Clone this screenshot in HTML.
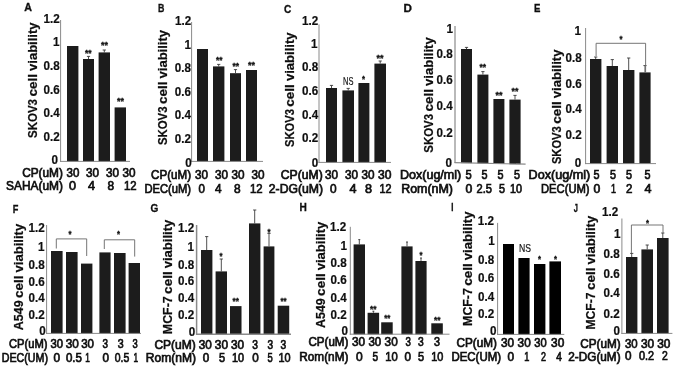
<!DOCTYPE html>
<html><head><meta charset="utf-8"><title>Figure</title>
<style>
html,body{margin:0;padding:0;background:#fff;}
svg{display:block;}
text{font-family:"Liberation Sans",sans-serif;fill:#111;}
text.r{stroke:#111;stroke-width:0.7px;}
</style></head><body>
<svg width="675" height="366" viewBox="0 0 675 366">
<rect width="675" height="366" fill="#fff"/>
<defs><filter id="bl" x="-2%" y="-2%" width="104%" height="104%"><feGaussianBlur stdDeviation="0.45"/></filter></defs>
<g filter="url(#bl)">
<rect x="67.0" y="46.0" width="11.4" height="115.6" fill="#1c1c1c"/>
<rect x="83.0" y="59.0" width="11.0" height="102.6" fill="#1c1c1c"/>
<line x1="88.5" y1="56.4" x2="88.5" y2="59.0" stroke="#3a3a3a" stroke-width="0.9"/>
<line x1="86.9" y1="56.4" x2="90.1" y2="56.4" stroke="#3a3a3a" stroke-width="0.9"/>
<rect x="98.6" y="52.4" width="11.4" height="109.2" fill="#1c1c1c"/>
<line x1="104.3" y1="50.0" x2="104.3" y2="52.4" stroke="#3a3a3a" stroke-width="0.9"/>
<line x1="102.7" y1="50.0" x2="105.9" y2="50.0" stroke="#3a3a3a" stroke-width="0.9"/>
<rect x="114.6" y="107.4" width="11.4" height="54.2" fill="#1c1c1c"/>
<line x1="60.6" y1="20.0" x2="60.6" y2="161.9" stroke="#8a8a8a" stroke-width="1"/>
<line x1="60.1" y1="161.4" x2="130.0" y2="161.4" stroke="#8a8a8a" stroke-width="1"/>
<text x="43.5" y="22.5" font-size="12.3" font-weight="bold" textLength="16.2" lengthAdjust="spacingAndGlyphs" stroke="#111" stroke-width="0.2">1.2</text>
<text x="52.9" y="46.1" font-size="12.3" font-weight="bold" textLength="6.5" lengthAdjust="spacingAndGlyphs" stroke="#111" stroke-width="0.2">1</text>
<text x="43.5" y="69.8" font-size="12.3" font-weight="bold" textLength="16.2" lengthAdjust="spacingAndGlyphs" stroke="#111" stroke-width="0.2">0.8</text>
<text x="43.5" y="93.5" font-size="12.3" font-weight="bold" textLength="16.2" lengthAdjust="spacingAndGlyphs" stroke="#111" stroke-width="0.2">0.6</text>
<text x="43.5" y="117.1" font-size="12.3" font-weight="bold" textLength="16.2" lengthAdjust="spacingAndGlyphs" stroke="#111" stroke-width="0.2">0.4</text>
<text x="43.5" y="140.8" font-size="12.3" font-weight="bold" textLength="16.2" lengthAdjust="spacingAndGlyphs" stroke="#111" stroke-width="0.2">0.2</text>
<text x="51.4" y="164.4" font-size="12.3" font-weight="bold" textLength="6.5" lengthAdjust="spacingAndGlyphs" stroke="#111" stroke-width="0.2">0</text>
<text x="85.0" y="55.7" font-size="8.5" font-weight="bold" textLength="6.6" lengthAdjust="spacingAndGlyphs" stroke="#111" stroke-width="0.3">**</text>
<text x="101.0" y="47.9" font-size="8.5" font-weight="bold" textLength="7.0" lengthAdjust="spacingAndGlyphs" stroke="#111" stroke-width="0.3">**</text>
<text x="117.0" y="103.7" font-size="8.5" font-weight="bold" textLength="7.0" lengthAdjust="spacingAndGlyphs" stroke="#111" stroke-width="0.3">**</text>
<text x="22.2" y="177.0" font-size="12.2" font-weight="normal" textLength="40.7" lengthAdjust="spacingAndGlyphs" class="r">CP(uM)</text>
<text x="66.6" y="177.0" font-size="12.2" font-weight="normal" textLength="12.8" lengthAdjust="spacingAndGlyphs" class="r">30</text>
<text x="86.0" y="177.0" font-size="12.2" font-weight="normal" textLength="13.0" lengthAdjust="spacingAndGlyphs" class="r">30</text>
<text x="106.0" y="177.0" font-size="12.2" font-weight="normal" textLength="13.0" lengthAdjust="spacingAndGlyphs" class="r">30</text>
<text x="122.4" y="177.0" font-size="12.2" font-weight="normal" textLength="13.0" lengthAdjust="spacingAndGlyphs" class="r">30</text>
<text x="6.0" y="190.3" font-size="12.2" font-weight="normal" textLength="56.9" lengthAdjust="spacingAndGlyphs" class="r">SAHA(uM)</text>
<text x="69.0" y="190.3" font-size="12.2" font-weight="normal" textLength="7.0" lengthAdjust="spacingAndGlyphs" class="r">0</text>
<text x="88.0" y="190.3" font-size="12.2" font-weight="normal" textLength="7.0" lengthAdjust="spacingAndGlyphs" class="r">4</text>
<text x="107.4" y="190.3" font-size="12.2" font-weight="normal" textLength="6.6" lengthAdjust="spacingAndGlyphs" class="r">8</text>
<text x="124.0" y="190.3" font-size="12.2" font-weight="normal" textLength="12.6" lengthAdjust="spacingAndGlyphs" class="r">12</text>
<text x="24.2" y="10.9" font-size="11.5" font-weight="bold" textLength="7.7" lengthAdjust="spacingAndGlyphs" stroke="#111" stroke-width="0.35">A</text>
<g transform="translate(36.6,137.5) rotate(-90)" font-size="12.5" font-weight="bold" stroke="#111" stroke-width="0.22">
<text x="-0.5" y="0" textLength="39.0" lengthAdjust="spacingAndGlyphs">SKOV3</text>
<text x="40.9" y="0" textLength="22.6" lengthAdjust="spacingAndGlyphs">cell</text>
<text x="66.5" y="0" textLength="48.6" lengthAdjust="spacingAndGlyphs">viability</text>
</g>
<rect x="197.0" y="49.0" width="11.0" height="112.6" fill="#1c1c1c"/>
<rect x="213.0" y="66.4" width="11.4" height="95.2" fill="#1c1c1c"/>
<line x1="218.7" y1="64.4" x2="218.7" y2="66.4" stroke="#3a3a3a" stroke-width="0.9"/>
<line x1="217.1" y1="64.4" x2="220.3" y2="64.4" stroke="#3a3a3a" stroke-width="0.9"/>
<rect x="230.0" y="73.2" width="11.0" height="88.4" fill="#1c1c1c"/>
<line x1="235.5" y1="69.6" x2="235.5" y2="73.2" stroke="#3a3a3a" stroke-width="0.9"/>
<line x1="233.9" y1="69.6" x2="237.1" y2="69.6" stroke="#3a3a3a" stroke-width="0.9"/>
<rect x="246.0" y="70.0" width="11.0" height="91.6" fill="#1c1c1c"/>
<line x1="191.6" y1="22.0" x2="191.6" y2="161.9" stroke="#8a8a8a" stroke-width="1"/>
<line x1="191.1" y1="161.4" x2="263.0" y2="161.4" stroke="#8a8a8a" stroke-width="1"/>
<text x="175.1" y="25.1" font-size="12.3" font-weight="bold" textLength="16.2" lengthAdjust="spacingAndGlyphs" stroke="#111" stroke-width="0.2">1.2</text>
<text x="184.5" y="48.5" font-size="12.3" font-weight="bold" textLength="6.5" lengthAdjust="spacingAndGlyphs" stroke="#111" stroke-width="0.2">1</text>
<text x="174.7" y="71.9" font-size="12.3" font-weight="bold" textLength="16.2" lengthAdjust="spacingAndGlyphs" stroke="#111" stroke-width="0.2">0.8</text>
<text x="174.7" y="96.1" font-size="12.3" font-weight="bold" textLength="16.2" lengthAdjust="spacingAndGlyphs" stroke="#111" stroke-width="0.2">0.6</text>
<text x="174.7" y="119.3" font-size="12.3" font-weight="bold" textLength="16.2" lengthAdjust="spacingAndGlyphs" stroke="#111" stroke-width="0.2">0.4</text>
<text x="174.7" y="142.5" font-size="12.3" font-weight="bold" textLength="16.2" lengthAdjust="spacingAndGlyphs" stroke="#111" stroke-width="0.2">0.2</text>
<text x="185.2" y="166.5" font-size="12.3" font-weight="bold" textLength="6.5" lengthAdjust="spacingAndGlyphs" stroke="#111" stroke-width="0.2">0</text>
<text x="216.0" y="63.4" font-size="8.5" font-weight="bold" textLength="6.4" lengthAdjust="spacingAndGlyphs" stroke="#111" stroke-width="0.3">**</text>
<text x="232.4" y="69.0" font-size="8.5" font-weight="bold" textLength="6.6" lengthAdjust="spacingAndGlyphs" stroke="#111" stroke-width="0.3">**</text>
<text x="248.0" y="68.2" font-size="8.5" font-weight="bold" textLength="7.0" lengthAdjust="spacingAndGlyphs" stroke="#111" stroke-width="0.3">**</text>
<text x="151.0" y="178.9" font-size="12.2" font-weight="normal" textLength="40.0" lengthAdjust="spacingAndGlyphs" class="r">CP(uM)</text>
<text x="195.0" y="178.9" font-size="12.2" font-weight="normal" textLength="13.0" lengthAdjust="spacingAndGlyphs" class="r">30</text>
<text x="215.0" y="178.9" font-size="12.2" font-weight="normal" textLength="13.0" lengthAdjust="spacingAndGlyphs" class="r">30</text>
<text x="231.6" y="178.9" font-size="12.2" font-weight="normal" textLength="13.0" lengthAdjust="spacingAndGlyphs" class="r">30</text>
<text x="251.6" y="178.9" font-size="12.2" font-weight="normal" textLength="13.0" lengthAdjust="spacingAndGlyphs" class="r">30</text>
<text x="144.4" y="192.9" font-size="12.2" font-weight="normal" textLength="46.6" lengthAdjust="spacingAndGlyphs" class="r">DEC(uM)</text>
<text x="198.6" y="192.9" font-size="12.2" font-weight="normal" textLength="6.4" lengthAdjust="spacingAndGlyphs" class="r">0</text>
<text x="215.0" y="192.9" font-size="12.2" font-weight="normal" textLength="6.6" lengthAdjust="spacingAndGlyphs" class="r">4</text>
<text x="234.0" y="192.9" font-size="12.2" font-weight="normal" textLength="6.6" lengthAdjust="spacingAndGlyphs" class="r">8</text>
<text x="250.0" y="192.9" font-size="12.2" font-weight="normal" textLength="12.6" lengthAdjust="spacingAndGlyphs" class="r">12</text>
<text x="158.1" y="11.8" font-size="11.5" font-weight="bold" textLength="6.4" lengthAdjust="spacingAndGlyphs" stroke="#111" stroke-width="0.35">B</text>
<g transform="translate(167.4,144.6) rotate(-90)" font-size="12.5" font-weight="bold" stroke="#111" stroke-width="0.22">
<text x="-0.5" y="0" textLength="38.6" lengthAdjust="spacingAndGlyphs">SKOV3</text>
<text x="40.5" y="0" textLength="22.6" lengthAdjust="spacingAndGlyphs">cell</text>
<text x="66.1" y="0" textLength="48.6" lengthAdjust="spacingAndGlyphs">viability</text>
</g>
<rect x="326.0" y="88.0" width="11.0" height="74.6" fill="#1c1c1c"/>
<line x1="331.5" y1="85.4" x2="331.5" y2="88.0" stroke="#3a3a3a" stroke-width="0.9"/>
<line x1="329.9" y1="85.4" x2="333.1" y2="85.4" stroke="#3a3a3a" stroke-width="0.9"/>
<rect x="342.4" y="90.4" width="11.6" height="72.2" fill="#1c1c1c"/>
<line x1="348.2" y1="88.4" x2="348.2" y2="90.4" stroke="#3a3a3a" stroke-width="0.9"/>
<line x1="346.6" y1="88.4" x2="349.8" y2="88.4" stroke="#3a3a3a" stroke-width="0.9"/>
<rect x="358.4" y="83.0" width="11.0" height="79.6" fill="#1c1c1c"/>
<rect x="374.4" y="63.6" width="11.6" height="99.0" fill="#1c1c1c"/>
<line x1="380.2" y1="61.0" x2="380.2" y2="63.6" stroke="#3a3a3a" stroke-width="0.9"/>
<line x1="378.6" y1="61.0" x2="381.8" y2="61.0" stroke="#3a3a3a" stroke-width="0.9"/>
<line x1="319.0" y1="24.4" x2="319.0" y2="162.9" stroke="#8a8a8a" stroke-width="1"/>
<line x1="318.5" y1="162.4" x2="391.0" y2="162.4" stroke="#8a8a8a" stroke-width="1"/>
<text x="302.1" y="24.5" font-size="12.3" font-weight="bold" textLength="16.2" lengthAdjust="spacingAndGlyphs" stroke="#111" stroke-width="0.2">1.2</text>
<text x="310.9" y="47.5" font-size="12.3" font-weight="bold" textLength="6.5" lengthAdjust="spacingAndGlyphs" stroke="#111" stroke-width="0.2">1</text>
<text x="302.1" y="71.1" font-size="12.3" font-weight="bold" textLength="16.2" lengthAdjust="spacingAndGlyphs" stroke="#111" stroke-width="0.2">0.8</text>
<text x="302.1" y="95.3" font-size="12.3" font-weight="bold" textLength="16.2" lengthAdjust="spacingAndGlyphs" stroke="#111" stroke-width="0.2">0.6</text>
<text x="302.1" y="118.5" font-size="12.3" font-weight="bold" textLength="16.2" lengthAdjust="spacingAndGlyphs" stroke="#111" stroke-width="0.2">0.4</text>
<text x="302.1" y="141.9" font-size="12.3" font-weight="bold" textLength="16.2" lengthAdjust="spacingAndGlyphs" stroke="#111" stroke-width="0.2">0.2</text>
<text x="311.8" y="166.5" font-size="12.3" font-weight="bold" textLength="6.5" lengthAdjust="spacingAndGlyphs" stroke="#111" stroke-width="0.2">0</text>
<text x="343.0" y="84.8" font-size="10.4" font-weight="normal" textLength="10.4" lengthAdjust="spacingAndGlyphs" fill="#222" stroke="#222" stroke-width="0.2">NS</text>
<text x="362.0" y="81.8" font-size="8.5" font-weight="bold" textLength="3.0" lengthAdjust="spacingAndGlyphs" stroke="#111" stroke-width="0.3">*</text>
<text x="376.4" y="60.6" font-size="8.5" font-weight="bold" textLength="7.0" lengthAdjust="spacingAndGlyphs" stroke="#111" stroke-width="0.3">**</text>
<text x="280.8" y="179.0" font-size="12.2" font-weight="normal" textLength="42.0" lengthAdjust="spacingAndGlyphs" class="r">CP(uM)</text>
<text x="325.0" y="179.0" font-size="12.2" font-weight="normal" textLength="13.0" lengthAdjust="spacingAndGlyphs" class="r">30</text>
<text x="345.0" y="179.0" font-size="12.2" font-weight="normal" textLength="13.0" lengthAdjust="spacingAndGlyphs" class="r">30</text>
<text x="361.6" y="179.0" font-size="12.2" font-weight="normal" textLength="13.0" lengthAdjust="spacingAndGlyphs" class="r">30</text>
<text x="378.0" y="179.0" font-size="12.2" font-weight="normal" textLength="13.4" lengthAdjust="spacingAndGlyphs" class="r">30</text>
<text x="268.8" y="192.8" font-size="12.2" font-weight="normal" textLength="54.2" lengthAdjust="spacingAndGlyphs" class="r">2-DG(uM)</text>
<text x="330.0" y="192.6" font-size="12.2" font-weight="normal" textLength="6.6" lengthAdjust="spacingAndGlyphs" class="r">0</text>
<text x="349.4" y="192.6" font-size="12.2" font-weight="normal" textLength="7.0" lengthAdjust="spacingAndGlyphs" class="r">4</text>
<text x="365.0" y="192.6" font-size="12.2" font-weight="normal" textLength="7.0" lengthAdjust="spacingAndGlyphs" class="r">8</text>
<text x="379.4" y="192.6" font-size="12.2" font-weight="normal" textLength="12.0" lengthAdjust="spacingAndGlyphs" class="r">12</text>
<text x="283.9" y="12.6" font-size="11.5" font-weight="bold" textLength="7.3" lengthAdjust="spacingAndGlyphs" stroke="#111" stroke-width="0.35">C</text>
<g transform="translate(293.5,146.5) rotate(-90)" font-size="12.5" font-weight="bold" stroke="#111" stroke-width="0.22">
<text x="-0.5" y="0" textLength="37.9" lengthAdjust="spacingAndGlyphs">SKOV3</text>
<text x="39.8" y="0" textLength="22.6" lengthAdjust="spacingAndGlyphs">cell</text>
<text x="65.4" y="0" textLength="48.6" lengthAdjust="spacingAndGlyphs">viability</text>
</g>
<rect x="461.0" y="49.0" width="11.0" height="114.1" fill="#1c1c1c"/>
<line x1="466.5" y1="47.4" x2="466.5" y2="49.0" stroke="#3a3a3a" stroke-width="0.9"/>
<line x1="464.9" y1="47.4" x2="468.1" y2="47.4" stroke="#3a3a3a" stroke-width="0.9"/>
<rect x="477.4" y="74.6" width="11.0" height="88.8" fill="#1c1c1c"/>
<line x1="482.9" y1="71.6" x2="482.9" y2="74.6" stroke="#3a3a3a" stroke-width="0.9"/>
<line x1="481.3" y1="71.6" x2="484.5" y2="71.6" stroke="#3a3a3a" stroke-width="0.9"/>
<rect x="493.4" y="99.0" width="11.0" height="64.8" fill="#1c1c1c"/>
<rect x="509.4" y="99.6" width="11.2" height="64.6" fill="#1c1c1c"/>
<line x1="515.0" y1="95.4" x2="515.0" y2="99.6" stroke="#3a3a3a" stroke-width="0.9"/>
<line x1="513.4" y1="95.4" x2="516.6" y2="95.4" stroke="#3a3a3a" stroke-width="0.9"/>
<line x1="455.0" y1="26.0" x2="455.0" y2="163.1" stroke="#8a8a8a" stroke-width="1.2"/>
<line x1="454.5" y1="162.6" x2="525.6" y2="164.2" stroke="#8a8a8a" stroke-width="1.2"/>
<text x="446.4" y="32.5" font-size="12.3" font-weight="bold" textLength="6.5" lengthAdjust="spacingAndGlyphs" stroke="#111" stroke-width="0.2">1</text>
<text x="436.6" y="57.5" font-size="12.3" font-weight="bold" textLength="16.2" lengthAdjust="spacingAndGlyphs" stroke="#111" stroke-width="0.2">0.8</text>
<text x="436.6" y="83.9" font-size="12.3" font-weight="bold" textLength="16.2" lengthAdjust="spacingAndGlyphs" stroke="#111" stroke-width="0.2">0.6</text>
<text x="436.6" y="110.0" font-size="12.3" font-weight="bold" textLength="16.2" lengthAdjust="spacingAndGlyphs" stroke="#111" stroke-width="0.2">0.4</text>
<text x="436.6" y="136.8" font-size="12.3" font-weight="bold" textLength="16.2" lengthAdjust="spacingAndGlyphs" stroke="#111" stroke-width="0.2">0.2</text>
<text x="445.5" y="166.7" font-size="12.3" font-weight="bold" textLength="6.5" lengthAdjust="spacingAndGlyphs" stroke="#111" stroke-width="0.2">0</text>
<text x="479.4" y="69.5" font-size="8.5" font-weight="bold" textLength="6.6" lengthAdjust="spacingAndGlyphs" stroke="#111" stroke-width="0.3">**</text>
<text x="495.4" y="97.9" font-size="8.5" font-weight="bold" textLength="7.0" lengthAdjust="spacingAndGlyphs" stroke="#111" stroke-width="0.3">**</text>
<text x="511.6" y="94.1" font-size="8.5" font-weight="bold" textLength="6.8" lengthAdjust="spacingAndGlyphs" stroke="#111" stroke-width="0.3">**</text>
<text x="400.0" y="179.2" font-size="12.2" font-weight="normal" textLength="61.2" lengthAdjust="spacingAndGlyphs" class="r">Dox(ug/ml)</text>
<text x="465.6" y="179.2" font-size="12.2" font-weight="normal" textLength="6.2" lengthAdjust="spacingAndGlyphs" class="r">5</text>
<text x="481.6" y="179.0" font-size="12.2" font-weight="normal" textLength="6.0" lengthAdjust="spacingAndGlyphs" class="r">5</text>
<text x="497.6" y="179.0" font-size="12.2" font-weight="normal" textLength="6.0" lengthAdjust="spacingAndGlyphs" class="r">5</text>
<text x="514.0" y="179.0" font-size="12.2" font-weight="normal" textLength="6.0" lengthAdjust="spacingAndGlyphs" class="r">5</text>
<text x="401.2" y="193.3" font-size="12.2" font-weight="normal" textLength="51.8" lengthAdjust="spacingAndGlyphs" class="r">Rom(nM)</text>
<text x="465.6" y="193.0" font-size="12.2" font-weight="normal" textLength="6.8" lengthAdjust="spacingAndGlyphs" class="r">0</text>
<text x="476.6" y="193.0" font-size="12.2" font-weight="normal" textLength="15.4" lengthAdjust="spacingAndGlyphs" class="r">2.5</text>
<text x="499.0" y="193.0" font-size="12.2" font-weight="normal" textLength="6.0" lengthAdjust="spacingAndGlyphs" class="r">5</text>
<text x="510.0" y="193.0" font-size="12.2" font-weight="normal" textLength="12.0" lengthAdjust="spacingAndGlyphs" class="r">10</text>
<text x="403.6" y="12.4" font-size="11.5" font-weight="bold" textLength="8.4" lengthAdjust="spacingAndGlyphs" stroke="#111" stroke-width="0.35">D</text>
<g transform="translate(433.4,152.2) rotate(-90)" font-size="12.5" font-weight="bold" stroke="#111" stroke-width="0.22">
<text x="-0.5" y="0" textLength="38.8" lengthAdjust="spacingAndGlyphs">SKOV3</text>
<text x="40.7" y="0" textLength="22.6" lengthAdjust="spacingAndGlyphs">cell</text>
<text x="66.3" y="0" textLength="48.6" lengthAdjust="spacingAndGlyphs">viability</text>
</g>
<rect x="590.0" y="59.0" width="11.4" height="104.8" fill="#1c1c1c"/>
<line x1="595.7" y1="57.0" x2="595.7" y2="59.0" stroke="#3a3a3a" stroke-width="0.9"/>
<line x1="594.1" y1="57.0" x2="597.3" y2="57.0" stroke="#3a3a3a" stroke-width="0.9"/>
<rect x="606.6" y="66.0" width="11.4" height="97.8" fill="#1c1c1c"/>
<line x1="612.3" y1="59.6" x2="612.3" y2="66.0" stroke="#3a3a3a" stroke-width="0.9"/>
<line x1="610.7" y1="59.6" x2="613.9" y2="59.6" stroke="#3a3a3a" stroke-width="0.9"/>
<rect x="623.0" y="70.0" width="11.4" height="93.8" fill="#1c1c1c"/>
<line x1="628.7" y1="58.0" x2="628.7" y2="70.0" stroke="#3a3a3a" stroke-width="0.9"/>
<line x1="627.1" y1="58.0" x2="630.3" y2="58.0" stroke="#3a3a3a" stroke-width="0.9"/>
<rect x="639.4" y="72.4" width="11.2" height="91.4" fill="#1c1c1c"/>
<line x1="645.0" y1="65.6" x2="645.0" y2="72.4" stroke="#3a3a3a" stroke-width="0.9"/>
<line x1="643.4" y1="65.6" x2="646.6" y2="65.6" stroke="#3a3a3a" stroke-width="0.9"/>
<line x1="585.6" y1="28.0" x2="585.6" y2="164.1" stroke="#8a8a8a" stroke-width="1"/>
<line x1="585.1" y1="163.6" x2="656.0" y2="163.6" stroke="#8a8a8a" stroke-width="1"/>
<text x="574.5" y="35.2" font-size="12.3" font-weight="bold" textLength="6.5" lengthAdjust="spacingAndGlyphs" stroke="#111" stroke-width="0.2">1</text>
<text x="565.6" y="61.8" font-size="12.3" font-weight="bold" textLength="16.2" lengthAdjust="spacingAndGlyphs" stroke="#111" stroke-width="0.2">0.8</text>
<text x="565.6" y="87.5" font-size="12.3" font-weight="bold" textLength="16.2" lengthAdjust="spacingAndGlyphs" stroke="#111" stroke-width="0.2">0.6</text>
<text x="565.6" y="113.3" font-size="12.3" font-weight="bold" textLength="16.2" lengthAdjust="spacingAndGlyphs" stroke="#111" stroke-width="0.2">0.4</text>
<text x="565.6" y="139.2" font-size="12.3" font-weight="bold" textLength="16.2" lengthAdjust="spacingAndGlyphs" stroke="#111" stroke-width="0.2">0.2</text>
<text x="574.8" y="167.0" font-size="12.3" font-weight="bold" textLength="6.5" lengthAdjust="spacingAndGlyphs" stroke="#111" stroke-width="0.2">0</text>
<text x="619.4" y="41.7" font-size="8.5" font-weight="bold" textLength="3.0" lengthAdjust="spacingAndGlyphs" stroke="#111" stroke-width="0.3">*</text>
<polyline points="596.1,56.0 596.1,43.3 645.6,43.3 645.6,72.0" fill="none" stroke="#666" stroke-width="0.9"/>
<text x="528.6" y="179.4" font-size="12.2" font-weight="normal" textLength="61.6" lengthAdjust="spacingAndGlyphs" class="r">Dox(ug/ml)</text>
<text x="593.6" y="179.4" font-size="12.2" font-weight="normal" textLength="6.0" lengthAdjust="spacingAndGlyphs" class="r">5</text>
<text x="610.0" y="179.4" font-size="12.2" font-weight="normal" textLength="6.0" lengthAdjust="spacingAndGlyphs" class="r">5</text>
<text x="626.0" y="179.4" font-size="12.2" font-weight="normal" textLength="6.0" lengthAdjust="spacingAndGlyphs" class="r">5</text>
<text x="644.6" y="179.4" font-size="12.2" font-weight="normal" textLength="6.0" lengthAdjust="spacingAndGlyphs" class="r">5</text>
<text x="541.0" y="193.2" font-size="12.2" font-weight="normal" textLength="48.6" lengthAdjust="spacingAndGlyphs" class="r">DEC(UM)</text>
<text x="593.6" y="193.2" font-size="12.2" font-weight="normal" textLength="6.8" lengthAdjust="spacingAndGlyphs" class="r">0</text>
<text x="611.0" y="193.2" font-size="12.2" font-weight="normal" textLength="5.0" lengthAdjust="spacingAndGlyphs" class="r">1</text>
<text x="626.0" y="193.2" font-size="12.2" font-weight="normal" textLength="6.4" lengthAdjust="spacingAndGlyphs" class="r">2</text>
<text x="644.6" y="193.2" font-size="12.2" font-weight="normal" textLength="7.0" lengthAdjust="spacingAndGlyphs" class="r">4</text>
<text x="534.0" y="12.4" font-size="11.5" font-weight="bold" textLength="6.4" lengthAdjust="spacingAndGlyphs" stroke="#111" stroke-width="0.35">E</text>
<g transform="translate(561.4,163.6) rotate(-90)" font-size="12.5" font-weight="bold" stroke="#111" stroke-width="0.22">
<text x="-0.5" y="0" textLength="37.9" lengthAdjust="spacingAndGlyphs">SKOV3</text>
<text x="39.8" y="0" textLength="22.6" lengthAdjust="spacingAndGlyphs">cell</text>
<text x="65.4" y="0" textLength="48.6" lengthAdjust="spacingAndGlyphs">viability</text>
</g>
<rect x="51.0" y="251.0" width="11.6" height="82.6" fill="#1c1c1c"/>
<rect x="66.0" y="252.0" width="11.6" height="81.6" fill="#1c1c1c"/>
<rect x="81.0" y="263.6" width="11.4" height="70.0" fill="#1c1c1c"/>
<rect x="99.4" y="252.4" width="11.2" height="81.2" fill="#1c1c1c"/>
<rect x="114.0" y="253.0" width="11.6" height="80.6" fill="#1c1c1c"/>
<rect x="128.6" y="263.0" width="11.4" height="70.6" fill="#1c1c1c"/>
<line x1="46.6" y1="225.0" x2="46.6" y2="333.9" stroke="#8a8a8a" stroke-width="1"/>
<line x1="46.1" y1="333.4" x2="141.0" y2="333.4" stroke="#8a8a8a" stroke-width="1"/>
<text x="28.5" y="232.3" font-size="12.3" font-weight="bold" textLength="16.2" lengthAdjust="spacingAndGlyphs" stroke="#111" stroke-width="0.2">1.2</text>
<text x="38.1" y="251.1" font-size="12.3" font-weight="bold" textLength="6.5" lengthAdjust="spacingAndGlyphs" stroke="#111" stroke-width="0.2">1</text>
<text x="28.5" y="268.5" font-size="12.3" font-weight="bold" textLength="16.2" lengthAdjust="spacingAndGlyphs" stroke="#111" stroke-width="0.2">0.8</text>
<text x="28.5" y="285.5" font-size="12.3" font-weight="bold" textLength="16.2" lengthAdjust="spacingAndGlyphs" stroke="#111" stroke-width="0.2">0.6</text>
<text x="28.5" y="302.3" font-size="12.3" font-weight="bold" textLength="16.2" lengthAdjust="spacingAndGlyphs" stroke="#111" stroke-width="0.2">0.4</text>
<text x="28.5" y="319.2" font-size="12.3" font-weight="bold" textLength="16.2" lengthAdjust="spacingAndGlyphs" stroke="#111" stroke-width="0.2">0.2</text>
<text x="39.3" y="335.1" font-size="12.3" font-weight="bold" textLength="6.5" lengthAdjust="spacingAndGlyphs" stroke="#111" stroke-width="0.2">0</text>
<text x="68.6" y="236.9" font-size="8.5" font-weight="bold" textLength="3.0" lengthAdjust="spacingAndGlyphs" stroke="#111" stroke-width="0.3">*</text>
<text x="117.0" y="236.9" font-size="8.5" font-weight="bold" textLength="3.0" lengthAdjust="spacingAndGlyphs" stroke="#111" stroke-width="0.3">*</text>
<polyline points="56.3,248.5 56.3,238.9 86.7,238.9 86.7,256.0" fill="none" stroke="#666" stroke-width="0.9"/>
<polyline points="104.3,249.0 104.3,239.8 134.7,239.8 134.7,256.6" fill="none" stroke="#666" stroke-width="0.9"/>
<text x="9.0" y="348.2" font-size="12.2" font-weight="normal" textLength="38.5" lengthAdjust="spacingAndGlyphs" class="r">CP(uM)</text>
<text x="50.5" y="348.2" font-size="12.2" font-weight="normal" textLength="12.5" lengthAdjust="spacingAndGlyphs" class="r">30</text>
<text x="65.7" y="348.2" font-size="12.2" font-weight="normal" textLength="13.1" lengthAdjust="spacingAndGlyphs" class="r">30</text>
<text x="81.2" y="348.2" font-size="12.2" font-weight="normal" textLength="12.8" lengthAdjust="spacingAndGlyphs" class="r">30</text>
<text x="102.5" y="348.2" font-size="12.2" font-weight="normal" textLength="5.5" lengthAdjust="spacingAndGlyphs" class="r">3</text>
<text x="117.8" y="348.2" font-size="12.2" font-weight="normal" textLength="5.9" lengthAdjust="spacingAndGlyphs" class="r">3</text>
<text x="132.4" y="348.2" font-size="12.2" font-weight="normal" textLength="5.2" lengthAdjust="spacingAndGlyphs" class="r">3</text>
<text x="1.8" y="362.1" font-size="12.2" font-weight="normal" textLength="46.2" lengthAdjust="spacingAndGlyphs" class="r">DEC(UM)</text>
<text x="53.6" y="362.1" font-size="12.2" font-weight="normal" textLength="6.6" lengthAdjust="spacingAndGlyphs" class="r">0</text>
<text x="65.9" y="362.1" font-size="12.2" font-weight="normal" textLength="16.0" lengthAdjust="spacingAndGlyphs" class="r">0.5</text>
<text x="85.2" y="362.1" font-size="12.2" font-weight="normal" textLength="4.6" lengthAdjust="spacingAndGlyphs" class="r">1</text>
<text x="102.5" y="362.1" font-size="12.2" font-weight="normal" textLength="6.5" lengthAdjust="spacingAndGlyphs" class="r">0</text>
<text x="114.8" y="362.1" font-size="12.2" font-weight="normal" textLength="14.5" lengthAdjust="spacingAndGlyphs" class="r">0.5</text>
<text x="133.4" y="362.1" font-size="12.2" font-weight="normal" textLength="4.6" lengthAdjust="spacingAndGlyphs" class="r">1</text>
<text x="12.8" y="212.5" font-size="11.5" font-weight="bold" textLength="5.6" lengthAdjust="spacingAndGlyphs" stroke="#111" stroke-width="0.35">F</text>
<g transform="translate(22.6,329.7) rotate(-90)" font-size="12.5" font-weight="bold" stroke="#111" stroke-width="0.22">
<text x="-0.5" y="0" textLength="29.8" lengthAdjust="spacingAndGlyphs">A549</text>
<text x="31.7" y="0" textLength="22.6" lengthAdjust="spacingAndGlyphs">cell</text>
<text x="57.3" y="0" textLength="48.6" lengthAdjust="spacingAndGlyphs">viability</text>
</g>
<rect x="201.0" y="250.0" width="11.4" height="84.4" fill="#1c1c1c"/>
<line x1="206.7" y1="236.6" x2="206.7" y2="250.0" stroke="#3a3a3a" stroke-width="0.9"/>
<line x1="205.1" y1="236.6" x2="208.3" y2="236.6" stroke="#3a3a3a" stroke-width="0.9"/>
<rect x="215.6" y="271.4" width="11.4" height="63.0" fill="#1c1c1c"/>
<line x1="221.3" y1="259.0" x2="221.3" y2="271.4" stroke="#3a3a3a" stroke-width="0.9"/>
<line x1="219.7" y1="259.0" x2="222.9" y2="259.0" stroke="#3a3a3a" stroke-width="0.9"/>
<rect x="230.0" y="306.1" width="11.5" height="28.3" fill="#1c1c1c"/>
<rect x="249.0" y="223.4" width="11.4" height="111.0" fill="#1c1c1c"/>
<line x1="254.7" y1="210.0" x2="254.7" y2="223.4" stroke="#3a3a3a" stroke-width="0.9"/>
<line x1="253.1" y1="210.0" x2="256.3" y2="210.0" stroke="#3a3a3a" stroke-width="0.9"/>
<rect x="263.6" y="246.4" width="10.8" height="88.0" fill="#1c1c1c"/>
<line x1="269.0" y1="233.4" x2="269.0" y2="246.4" stroke="#3a3a3a" stroke-width="0.9"/>
<line x1="267.4" y1="233.4" x2="270.6" y2="233.4" stroke="#3a3a3a" stroke-width="0.9"/>
<rect x="277.7" y="305.7" width="11.5" height="28.7" fill="#1c1c1c"/>
<line x1="196.6" y1="225.0" x2="196.6" y2="334.7" stroke="#8a8a8a" stroke-width="1.5"/>
<line x1="196.1" y1="334.2" x2="291.0" y2="334.2" stroke="#8a8a8a" stroke-width="1.5"/>
<text x="178.1" y="231.8" font-size="12.3" font-weight="bold" textLength="16.2" lengthAdjust="spacingAndGlyphs" stroke="#111" stroke-width="0.2">1.2</text>
<text x="187.5" y="251.3" font-size="12.3" font-weight="bold" textLength="6.5" lengthAdjust="spacingAndGlyphs" stroke="#111" stroke-width="0.2">1</text>
<text x="178.1" y="268.5" font-size="12.3" font-weight="bold" textLength="16.2" lengthAdjust="spacingAndGlyphs" stroke="#111" stroke-width="0.2">0.8</text>
<text x="178.1" y="285.3" font-size="12.3" font-weight="bold" textLength="16.2" lengthAdjust="spacingAndGlyphs" stroke="#111" stroke-width="0.2">0.6</text>
<text x="178.1" y="302.3" font-size="12.3" font-weight="bold" textLength="16.2" lengthAdjust="spacingAndGlyphs" stroke="#111" stroke-width="0.2">0.4</text>
<text x="178.1" y="319.2" font-size="12.3" font-weight="bold" textLength="16.2" lengthAdjust="spacingAndGlyphs" stroke="#111" stroke-width="0.2">0.2</text>
<text x="188.8" y="335.6" font-size="12.3" font-weight="bold" textLength="6.5" lengthAdjust="spacingAndGlyphs" stroke="#111" stroke-width="0.2">0</text>
<text x="219.6" y="259.4" font-size="8.5" font-weight="bold" textLength="3.0" lengthAdjust="spacingAndGlyphs" stroke="#111" stroke-width="0.3">*</text>
<text x="232.6" y="304.4" font-size="8.5" font-weight="bold" textLength="6.4" lengthAdjust="spacingAndGlyphs" stroke="#111" stroke-width="0.3">**</text>
<text x="267.4" y="235.0" font-size="8.5" font-weight="bold" textLength="3.0" lengthAdjust="spacingAndGlyphs" stroke="#111" stroke-width="0.3">*</text>
<text x="280.5" y="304.3" font-size="8.5" font-weight="bold" textLength="6.1" lengthAdjust="spacingAndGlyphs" stroke="#111" stroke-width="0.3">**</text>
<text x="154.4" y="348.6" font-size="12.2" font-weight="normal" textLength="41.4" lengthAdjust="spacingAndGlyphs" class="r">CP(uM)</text>
<text x="198.7" y="348.6" font-size="12.2" font-weight="normal" textLength="13.1" lengthAdjust="spacingAndGlyphs" class="r">30</text>
<text x="214.8" y="348.6" font-size="12.2" font-weight="normal" textLength="13.2" lengthAdjust="spacingAndGlyphs" class="r">30</text>
<text x="231.0" y="348.6" font-size="12.2" font-weight="normal" textLength="13.1" lengthAdjust="spacingAndGlyphs" class="r">30</text>
<text x="252.2" y="348.6" font-size="12.2" font-weight="normal" textLength="5.7" lengthAdjust="spacingAndGlyphs" class="r">3</text>
<text x="267.4" y="348.6" font-size="12.2" font-weight="normal" textLength="5.6" lengthAdjust="spacingAndGlyphs" class="r">3</text>
<text x="280.5" y="348.6" font-size="12.2" font-weight="normal" textLength="5.7" lengthAdjust="spacingAndGlyphs" class="r">3</text>
<text x="145.8" y="362.1" font-size="12.2" font-weight="normal" textLength="50.2" lengthAdjust="spacingAndGlyphs" class="r">Rom(nM)</text>
<text x="202.7" y="362.1" font-size="12.2" font-weight="normal" textLength="6.5" lengthAdjust="spacingAndGlyphs" class="r">0</text>
<text x="218.9" y="362.1" font-size="12.2" font-weight="normal" textLength="6.1" lengthAdjust="spacingAndGlyphs" class="r">5</text>
<text x="232.0" y="362.1" font-size="12.2" font-weight="normal" textLength="12.1" lengthAdjust="spacingAndGlyphs" class="r">10</text>
<text x="252.2" y="362.1" font-size="12.2" font-weight="normal" textLength="6.5" lengthAdjust="spacingAndGlyphs" class="r">0</text>
<text x="267.4" y="362.1" font-size="12.2" font-weight="normal" textLength="5.2" lengthAdjust="spacingAndGlyphs" class="r">5</text>
<text x="278.5" y="362.1" font-size="12.2" font-weight="normal" textLength="12.1" lengthAdjust="spacingAndGlyphs" class="r">10</text>
<text x="150.5" y="211.7" font-size="11.5" font-weight="bold" textLength="7.8" lengthAdjust="spacingAndGlyphs" stroke="#111" stroke-width="0.35">G</text>
<g transform="translate(172.3,333.7) rotate(-90)" font-size="12.5" font-weight="bold" stroke="#111" stroke-width="0.22">
<text x="-0.5" y="0" textLength="37.9" lengthAdjust="spacingAndGlyphs">MCF-7</text>
<text x="39.8" y="0" textLength="22.6" lengthAdjust="spacingAndGlyphs">cell</text>
<text x="65.4" y="0" textLength="48.6" lengthAdjust="spacingAndGlyphs">viability</text>
</g>
<rect x="353.6" y="244.4" width="11.4" height="90.0" fill="#1c1c1c"/>
<line x1="359.3" y1="239.6" x2="359.3" y2="244.4" stroke="#3a3a3a" stroke-width="0.9"/>
<line x1="358.3" y1="239.6" x2="360.3" y2="239.6" stroke="#3a3a3a" stroke-width="0.9"/>
<rect x="367.6" y="312.8" width="11.5" height="21.6" fill="#1c1c1c"/>
<line x1="373.4" y1="311.2" x2="373.4" y2="312.8" stroke="#3a3a3a" stroke-width="0.9"/>
<line x1="372.4" y1="311.2" x2="374.4" y2="311.2" stroke="#3a3a3a" stroke-width="0.9"/>
<rect x="381.2" y="322.3" width="11.5" height="12.1" fill="#1c1c1c"/>
<rect x="401.4" y="246.4" width="11.2" height="88.0" fill="#1c1c1c"/>
<line x1="407.0" y1="242.0" x2="407.0" y2="246.4" stroke="#3a3a3a" stroke-width="0.9"/>
<line x1="406.0" y1="242.0" x2="408.0" y2="242.0" stroke="#3a3a3a" stroke-width="0.9"/>
<rect x="415.4" y="261.0" width="11.2" height="73.4" fill="#1c1c1c"/>
<line x1="421.0" y1="258.0" x2="421.0" y2="261.0" stroke="#3a3a3a" stroke-width="0.9"/>
<line x1="420.0" y1="258.0" x2="422.0" y2="258.0" stroke="#3a3a3a" stroke-width="0.9"/>
<rect x="431.3" y="323.3" width="11.5" height="11.1" fill="#1c1c1c"/>
<line x1="350.3" y1="226.8" x2="350.3" y2="334.7" stroke="#8a8a8a" stroke-width="1"/>
<line x1="349.8" y1="334.2" x2="449.5" y2="334.2" stroke="#8a8a8a" stroke-width="1"/>
<text x="330.1" y="231.3" font-size="12.3" font-weight="bold" textLength="16.2" lengthAdjust="spacingAndGlyphs" stroke="#111" stroke-width="0.2">1.2</text>
<text x="340.5" y="249.6" font-size="12.3" font-weight="bold" textLength="6.5" lengthAdjust="spacingAndGlyphs" stroke="#111" stroke-width="0.2">1</text>
<text x="330.5" y="267.0" font-size="12.3" font-weight="bold" textLength="16.2" lengthAdjust="spacingAndGlyphs" stroke="#111" stroke-width="0.2">0.8</text>
<text x="330.5" y="284.4" font-size="12.3" font-weight="bold" textLength="16.2" lengthAdjust="spacingAndGlyphs" stroke="#111" stroke-width="0.2">0.6</text>
<text x="330.5" y="301.9" font-size="12.3" font-weight="bold" textLength="16.2" lengthAdjust="spacingAndGlyphs" stroke="#111" stroke-width="0.2">0.4</text>
<text x="330.5" y="319.1" font-size="12.3" font-weight="bold" textLength="16.2" lengthAdjust="spacingAndGlyphs" stroke="#111" stroke-width="0.2">0.2</text>
<text x="341.6" y="335.3" font-size="12.3" font-weight="bold" textLength="6.5" lengthAdjust="spacingAndGlyphs" stroke="#111" stroke-width="0.2">0</text>
<text x="370.0" y="311.6" font-size="8.5" font-weight="bold" textLength="6.5" lengthAdjust="spacingAndGlyphs" stroke="#111" stroke-width="0.3">**</text>
<text x="384.2" y="320.7" font-size="8.5" font-weight="bold" textLength="6.1" lengthAdjust="spacingAndGlyphs" stroke="#111" stroke-width="0.3">**</text>
<text x="419.4" y="258.2" font-size="8.5" font-weight="bold" textLength="3.0" lengthAdjust="spacingAndGlyphs" stroke="#111" stroke-width="0.3">*</text>
<text x="433.9" y="322.7" font-size="8.5" font-weight="bold" textLength="6.5" lengthAdjust="spacingAndGlyphs" stroke="#111" stroke-width="0.3">**</text>
<text x="308.4" y="346.2" font-size="12.2" font-weight="normal" textLength="40.0" lengthAdjust="spacingAndGlyphs" class="r">CP(uM)</text>
<text x="351.9" y="346.2" font-size="12.2" font-weight="normal" textLength="13.1" lengthAdjust="spacingAndGlyphs" class="r">30</text>
<text x="368.4" y="346.2" font-size="12.2" font-weight="normal" textLength="12.8" lengthAdjust="spacingAndGlyphs" class="r">30</text>
<text x="384.6" y="346.2" font-size="12.2" font-weight="normal" textLength="13.1" lengthAdjust="spacingAndGlyphs" class="r">30</text>
<text x="405.6" y="346.2" font-size="12.2" font-weight="normal" textLength="5.4" lengthAdjust="spacingAndGlyphs" class="r">3</text>
<text x="418.1" y="346.2" font-size="12.2" font-weight="normal" textLength="5.7" lengthAdjust="spacingAndGlyphs" class="r">3</text>
<text x="434.0" y="346.2" font-size="12.2" font-weight="normal" textLength="6.0" lengthAdjust="spacingAndGlyphs" class="r">3</text>
<text x="299.3" y="360.7" font-size="12.2" font-weight="normal" textLength="49.1" lengthAdjust="spacingAndGlyphs" class="r">Rom(nM)</text>
<text x="355.9" y="360.7" font-size="12.2" font-weight="normal" textLength="6.7" lengthAdjust="spacingAndGlyphs" class="r">0</text>
<text x="372.5" y="360.7" font-size="12.2" font-weight="normal" textLength="5.6" lengthAdjust="spacingAndGlyphs" class="r">5</text>
<text x="385.2" y="360.7" font-size="12.2" font-weight="normal" textLength="12.5" lengthAdjust="spacingAndGlyphs" class="r">10</text>
<text x="404.5" y="360.7" font-size="12.2" font-weight="normal" textLength="6.5" lengthAdjust="spacingAndGlyphs" class="r">0</text>
<text x="418.1" y="360.7" font-size="12.2" font-weight="normal" textLength="6.1" lengthAdjust="spacingAndGlyphs" class="r">5</text>
<text x="431.3" y="360.7" font-size="12.2" font-weight="normal" textLength="12.1" lengthAdjust="spacingAndGlyphs" class="r">10</text>
<text x="299.4" y="211.4" font-size="11.5" font-weight="bold" textLength="7.3" lengthAdjust="spacingAndGlyphs" stroke="#111" stroke-width="0.35">H</text>
<g transform="translate(324.7,327.5) rotate(-90)" font-size="12.5" font-weight="bold" stroke="#111" stroke-width="0.22">
<text x="-0.5" y="0" textLength="29.7" lengthAdjust="spacingAndGlyphs">A549</text>
<text x="31.6" y="0" textLength="22.6" lengthAdjust="spacingAndGlyphs">cell</text>
<text x="57.2" y="0" textLength="48.6" lengthAdjust="spacingAndGlyphs">viability</text>
</g>
<rect x="503.0" y="244.0" width="11.0" height="90.6" fill="#050505"/>
<rect x="518.4" y="258.0" width="11.2" height="76.6" fill="#050505"/>
<rect x="534.0" y="264.0" width="11.4" height="70.6" fill="#050505"/>
<rect x="549.4" y="261.4" width="11.6" height="73.2" fill="#050505"/>
<line x1="497.6" y1="222.9" x2="497.6" y2="334.9" stroke="#8a8a8a" stroke-width="1"/>
<line x1="497.1" y1="334.4" x2="564.3" y2="334.4" stroke="#8a8a8a" stroke-width="1"/>
<text x="477.8" y="225.2" font-size="12.3" font-weight="bold" textLength="16.2" lengthAdjust="spacingAndGlyphs" stroke="#111" stroke-width="0.2">1.2</text>
<text x="488.2" y="244.7" font-size="12.3" font-weight="bold" textLength="6.5" lengthAdjust="spacingAndGlyphs" stroke="#111" stroke-width="0.2">1</text>
<text x="478.0" y="263.7" font-size="12.3" font-weight="bold" textLength="16.2" lengthAdjust="spacingAndGlyphs" stroke="#111" stroke-width="0.2">0.8</text>
<text x="478.0" y="282.3" font-size="12.3" font-weight="bold" textLength="16.2" lengthAdjust="spacingAndGlyphs" stroke="#111" stroke-width="0.2">0.6</text>
<text x="478.0" y="300.7" font-size="12.3" font-weight="bold" textLength="16.2" lengthAdjust="spacingAndGlyphs" stroke="#111" stroke-width="0.2">0.4</text>
<text x="478.0" y="318.4" font-size="12.3" font-weight="bold" textLength="16.2" lengthAdjust="spacingAndGlyphs" stroke="#111" stroke-width="0.2">0.2</text>
<text x="490.1" y="334.8" font-size="12.3" font-weight="bold" textLength="6.5" lengthAdjust="spacingAndGlyphs" stroke="#111" stroke-width="0.2">0</text>
<text x="519.0" y="251.6" font-size="10.4" font-weight="normal" textLength="12.0" lengthAdjust="spacingAndGlyphs" fill="#222" stroke="#222" stroke-width="0.2">NS</text>
<text x="538.0" y="262.2" font-size="8.5" font-weight="bold" textLength="3.0" lengthAdjust="spacingAndGlyphs" stroke="#111" stroke-width="0.3">*</text>
<text x="554.0" y="262.2" font-size="8.5" font-weight="bold" textLength="3.0" lengthAdjust="spacingAndGlyphs" stroke="#111" stroke-width="0.3">*</text>
<text x="456.5" y="346.6" font-size="12.2" font-weight="normal" textLength="40.5" lengthAdjust="spacingAndGlyphs" class="r">CP(uM)</text>
<text x="501.0" y="346.6" font-size="12.2" font-weight="normal" textLength="13.1" lengthAdjust="spacingAndGlyphs" class="r">30</text>
<text x="517.6" y="346.6" font-size="12.2" font-weight="normal" textLength="13.1" lengthAdjust="spacingAndGlyphs" class="r">30</text>
<text x="534.3" y="346.6" font-size="12.2" font-weight="normal" textLength="12.4" lengthAdjust="spacingAndGlyphs" class="r">30</text>
<text x="551.1" y="346.6" font-size="12.2" font-weight="normal" textLength="13.2" lengthAdjust="spacingAndGlyphs" class="r">30</text>
<text x="451.5" y="361.1" font-size="12.2" font-weight="normal" textLength="49.5" lengthAdjust="spacingAndGlyphs" class="r">DEC(UM)</text>
<text x="507.5" y="361.1" font-size="12.2" font-weight="normal" textLength="6.6" lengthAdjust="spacingAndGlyphs" class="r">0</text>
<text x="524.2" y="361.1" font-size="12.2" font-weight="normal" textLength="5.1" lengthAdjust="spacingAndGlyphs" class="r">1</text>
<text x="541.0" y="361.1" font-size="12.2" font-weight="normal" textLength="5.0" lengthAdjust="spacingAndGlyphs" class="r">2</text>
<text x="556.2" y="361.1" font-size="12.2" font-weight="normal" textLength="5.6" lengthAdjust="spacingAndGlyphs" class="r">4</text>
<text x="451.2" y="210.5" font-size="11.5" font-weight="bold" textLength="2.2" lengthAdjust="spacingAndGlyphs" stroke="#111" stroke-width="0.35">I</text>
<g transform="translate(472.2,325.4) rotate(-90)" font-size="12.5" font-weight="bold" stroke="#111" stroke-width="0.22">
<text x="-0.5" y="0" textLength="37.7" lengthAdjust="spacingAndGlyphs">MCF-7</text>
<text x="39.6" y="0" textLength="22.6" lengthAdjust="spacingAndGlyphs">cell</text>
<text x="65.2" y="0" textLength="48.6" lengthAdjust="spacingAndGlyphs">viability</text>
</g>
<rect x="626.0" y="257.0" width="11.4" height="76.6" fill="#1c1c1c"/>
<line x1="631.7" y1="253.4" x2="631.7" y2="257.0" stroke="#3a3a3a" stroke-width="0.9"/>
<line x1="630.1" y1="253.4" x2="633.3" y2="253.4" stroke="#3a3a3a" stroke-width="0.9"/>
<rect x="641.4" y="249.4" width="11.6" height="84.2" fill="#1c1c1c"/>
<line x1="647.2" y1="245.0" x2="647.2" y2="249.4" stroke="#3a3a3a" stroke-width="0.9"/>
<line x1="645.6" y1="245.0" x2="648.8" y2="245.0" stroke="#3a3a3a" stroke-width="0.9"/>
<rect x="657.0" y="238.0" width="11.6" height="95.6" fill="#1c1c1c"/>
<line x1="662.8" y1="233.0" x2="662.8" y2="238.0" stroke="#3a3a3a" stroke-width="0.9"/>
<line x1="661.2" y1="233.0" x2="664.4" y2="233.0" stroke="#3a3a3a" stroke-width="0.9"/>
<line x1="621.9" y1="218.5" x2="621.9" y2="333.9" stroke="#8a8a8a" stroke-width="1"/>
<line x1="621.4" y1="333.4" x2="672.4" y2="333.4" stroke="#8a8a8a" stroke-width="1"/>
<text x="602.1" y="215.5" font-size="12.3" font-weight="bold" textLength="16.2" lengthAdjust="spacingAndGlyphs" stroke="#111" stroke-width="0.2">1.2</text>
<text x="613.9" y="237.7" font-size="12.3" font-weight="bold" textLength="6.5" lengthAdjust="spacingAndGlyphs" stroke="#111" stroke-width="0.2">1</text>
<text x="603.5" y="257.7" font-size="12.3" font-weight="bold" textLength="16.2" lengthAdjust="spacingAndGlyphs" stroke="#111" stroke-width="0.2">0.8</text>
<text x="603.5" y="277.7" font-size="12.3" font-weight="bold" textLength="16.2" lengthAdjust="spacingAndGlyphs" stroke="#111" stroke-width="0.2">0.6</text>
<text x="603.5" y="297.3" font-size="12.3" font-weight="bold" textLength="16.2" lengthAdjust="spacingAndGlyphs" stroke="#111" stroke-width="0.2">0.4</text>
<text x="603.5" y="318.3" font-size="12.3" font-weight="bold" textLength="16.2" lengthAdjust="spacingAndGlyphs" stroke="#111" stroke-width="0.2">0.2</text>
<text x="613.4" y="335.1" font-size="12.3" font-weight="bold" textLength="6.5" lengthAdjust="spacingAndGlyphs" stroke="#111" stroke-width="0.2">0</text>
<text x="646.0" y="226.4" font-size="8.5" font-weight="bold" textLength="3.0" lengthAdjust="spacingAndGlyphs" stroke="#111" stroke-width="0.3">*</text>
<polyline points="631.4,253.0 631.4,225.0 663.0,225.0 663.0,233.0" fill="none" stroke="#666" stroke-width="0.9"/>
<text x="580.2" y="347.8" font-size="12.2" font-weight="normal" textLength="40.4" lengthAdjust="spacingAndGlyphs" class="r">CP(uM)</text>
<text x="624.9" y="347.6" font-size="12.2" font-weight="normal" textLength="12.7" lengthAdjust="spacingAndGlyphs" class="r">30</text>
<text x="641.0" y="347.6" font-size="12.2" font-weight="normal" textLength="13.2" lengthAdjust="spacingAndGlyphs" class="r">30</text>
<text x="657.2" y="347.6" font-size="12.2" font-weight="normal" textLength="13.2" lengthAdjust="spacingAndGlyphs" class="r">30</text>
<text x="568.3" y="360.5" font-size="12.2" font-weight="normal" textLength="52.3" lengthAdjust="spacingAndGlyphs" class="r">2-DG(uM)</text>
<text x="624.9" y="360.1" font-size="12.2" font-weight="normal" textLength="6.5" lengthAdjust="spacingAndGlyphs" class="r">0</text>
<text x="639.0" y="360.1" font-size="12.2" font-weight="normal" textLength="15.2" lengthAdjust="spacingAndGlyphs" class="r">0.2</text>
<text x="661.9" y="360.1" font-size="12.2" font-weight="normal" textLength="5.8" lengthAdjust="spacingAndGlyphs" class="r">2</text>
<text x="573.8" y="211.6" font-size="11.5" font-weight="bold" textLength="4.2" lengthAdjust="spacingAndGlyphs" stroke="#111" stroke-width="0.35">J</text>
<g transform="translate(594.9,329.1) rotate(-90)" font-size="12.5" font-weight="bold" stroke="#111" stroke-width="0.22">
<text x="-0.5" y="0" textLength="37.2" lengthAdjust="spacingAndGlyphs">MCF-7</text>
<text x="39.1" y="0" textLength="22.6" lengthAdjust="spacingAndGlyphs">cell</text>
<text x="64.7" y="0" textLength="48.6" lengthAdjust="spacingAndGlyphs">viability</text>
</g>
</g>
</svg>
</body></html>
